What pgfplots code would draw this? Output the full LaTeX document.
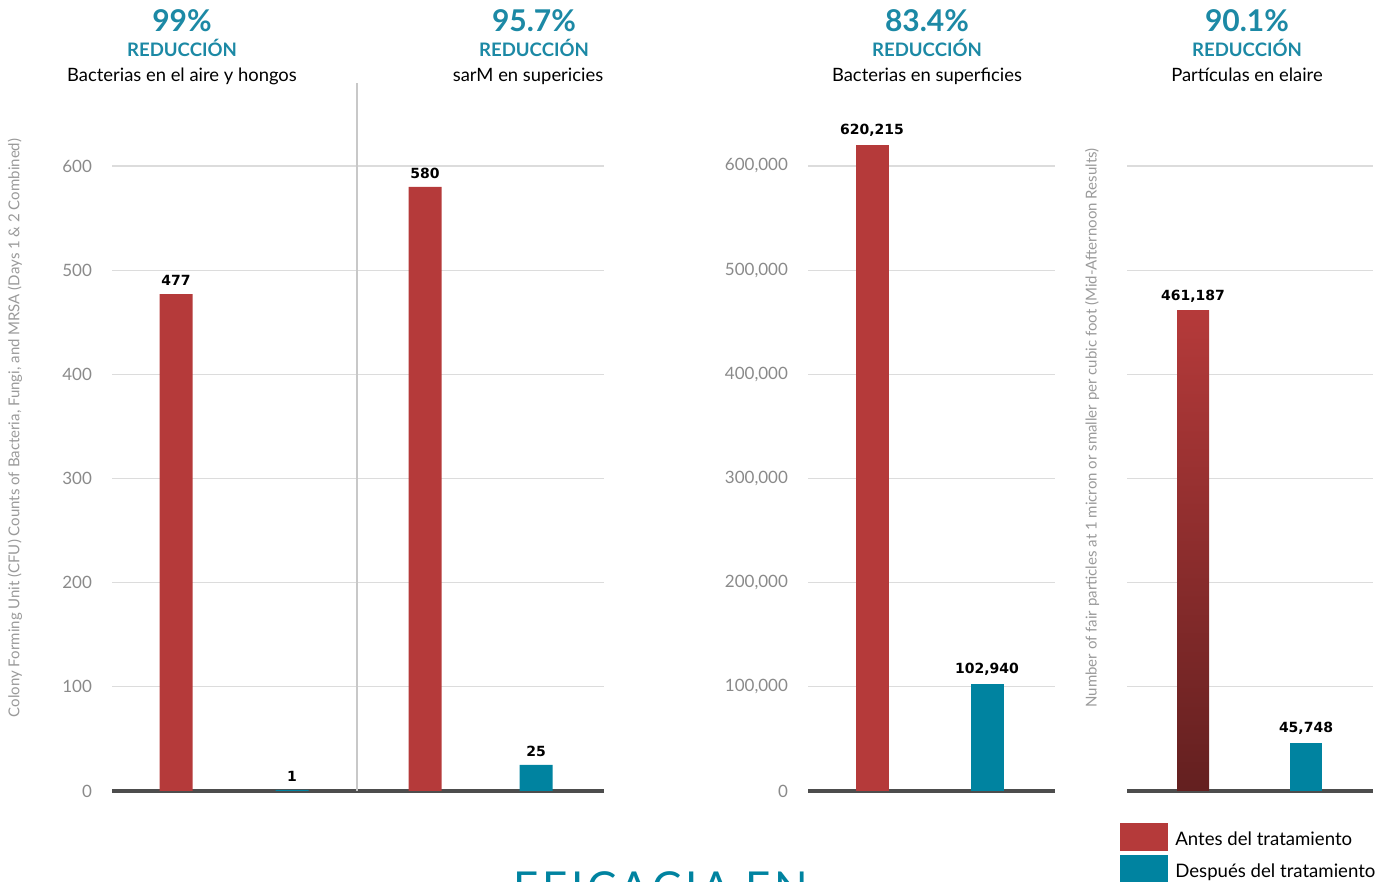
\documentclass[border=0pt]{standalone}
\usepackage{fontspec}
\setmainfont{Lato}
\newfontfamily\djv{DejaVu Sans}
\usepackage{pgfplots}
\pgfplotsset{compat=1.18}
\definecolor{redA}{HTML}{B53A3A}
\definecolor{tealA}{HTML}{0083A0}
\definecolor{titleT}{HTML}{1C89A5}
\definecolor{gridG}{HTML}{DCDCDC}
\definecolor{sepG}{HTML}{C8C8C8}
\definecolor{tickG}{HTML}{8A8A8A}
\definecolor{baseG}{HTML}{4D4D4D}
\definecolor{labG}{HTML}{9A9A9A}
\pgfplotsset{
  panel/.style={
    scale only axis, anchor=south west, height=354.17pt,
    ymin=0,
    ybar, bar shift=0pt,
    axis x line*=bottom, axis y line*=left,
    y axis line style={draw=none},
    x axis line style={baseG, line width=2pt, -},
    xtick=\empty,
    major tick length=0pt,
    scaled y ticks=false,
    ymajorgrids, grid style={gridG, line width=0.6pt},
    yticklabel style={font=\fontsize{8.5}{10}\selectfont, text=tickG, xshift=-6.5pt,
      /pgf/number format/.cd, fixed, precision=0, 1000 sep={,}, assume math mode=true},
    point meta=explicit symbolic,
    nodes near coords,
    nodes near coords style={font=\djv\bfseries\fontsize{7}{8}\selectfont, text=black, inner sep=4pt},
    clip=false,
  },
}
\begin{document}
\begin{tikzpicture}[x=0.5pt,y=0.5pt]
\useasboundingbox (0,0) rectangle (1387,882);
\clip (0,0) rectangle (1387,882);

% Panel 1
\begin{axis}[panel, at={(56pt,45.5pt)}, width=246pt,
  xmin=112, xmax=604, ymax=680, ytick={0,100,...,600}, bar width=33]
\addplot[fill=redA, draw=none] coordinates {(176,477)[477] (425,580)[580]};
\addplot[fill=tealA, draw=none] coordinates {(292,1)[1] (536,25)[25]};
\draw[sepG, line width=0.8pt] (axis cs:357,0) -- (axis cs:357,680);
\end{axis}

% Panel 2
\begin{axis}[panel, at={(404pt,45.5pt)}, width=123.5pt,
  xmin=808, xmax=1055, ymax=680000, ytick={0,100000,...,600000}, bar width=33,
  legend style={at={(axis description cs:1.263,-0.045)}, anchor=north west,
    draw=none, fill=none, inner sep=0pt, row sep=2pt,
    font=\fontsize{9.3}{11}\selectfont,
    nodes={inner sep=0pt, anchor=base west},
    /tikz/every odd column/.append style={column sep=3.5pt}},
  legend image code/.code={\fill[#1] (0pt,-3pt) rectangle (24pt,11pt);}]
\addplot[fill=redA, draw=none] coordinates {(872,620215)[620{,}215]};
\addlegendentry{Antes del tratamiento}
\addplot[fill=tealA, draw=none] coordinates {(987,102940)[102{,}940]};
\addlegendentry{Después del tratamiento}
\end{axis}

% Panel 3
\begin{axis}[panel, at={(563.5pt,45.5pt)}, width=123pt,
  xmin=1127, xmax=1373, ymax=680000, ytick={0,100000,...,600000},
  yticklabels={}, bar width=32]
\addplot[top color=redA, bottom color=redA!55!black, draw=none] coordinates {(1193,461187)[461{,}187]};
\addplot[fill=tealA, draw=none] coordinates {(1306,45748)[45{,}748]};
\end{axis}

% axis titles
\node[rotate=90, text=labG, font=\fontsize{7.5}{9}\selectfont] at (15,454)
  {Colony Forming Unit (CFU) Counts of Bacteria, Fungi, and MRSA (Days 1 \& 2 Combined)};
\node[rotate=90, text=labG, font=\fontsize{7.5}{9}\selectfont] at (1092,454)
  {Number of fair particles at 1 micron or smaller per cubic foot (Mid-Afternoon Results)};

% headers
\tikzset{
  pct/.style={anchor=base, text=titleT, font=\bfseries\fontsize{15}{18}\selectfont},
  red/.style={anchor=base, text=titleT, font=\bfseries\fontsize{9.3}{12}\selectfont},
  sub/.style={anchor=base, text=black, font=\fontsize{9.2}{12}\selectfont},
}
\node[pct] at (182,850) {99\%};
\node[red] at (182,825) {REDUCCIÓN};
\node[sub] at (182,800) {Bacterias en el aire y hongos};
\node[pct] at (534,850) {95.7\%};
\node[red] at (534,825) {REDUCCIÓN};
\node[sub] at (528,800) {sarM en supericies};
\node[pct] at (927,850) {83.4\%};
\node[red] at (927,825) {REDUCCIÓN};
\node[sub] at (927,800) {Bacterias en superficies};
\node[pct] at (1247,850) {90.1\%};
\node[red] at (1247,825) {REDUCCIÓN};
\node[sub] at (1247,800) {Partículas en elaire};

\node[anchor=base, text=tealA, font=\addfontfeature{LetterSpace=8}\fontsize{22}{24}\selectfont] at (661,-22) {EFICACIA EN};
\end{tikzpicture}
\end{document}
